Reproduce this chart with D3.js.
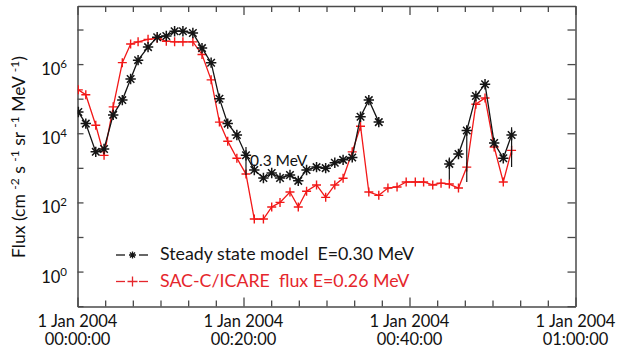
<!DOCTYPE html>
<html>
<head>
<meta charset="utf-8">
<script src="https://cdn.jsdelivr.net/npm/d3@7"></script>
<style>
  html, body { margin: 0; padding: 0; background: #fff; overflow: hidden; }
  text { font-family: Lato, "Open Sans", sans-serif; }
</style>
</head>
<body>
<div id="graph"></div>
<script>
// DATA
// sample times, minutes after 1 Jan 2004 00:00:00
const minutes = [0.1, 1.0, 2.2, 3.2, 4.3, 5.4, 6.4, 7.3, 8.5, 9.6,
  10.7, 11.7, 12.7, 13.9, 15.0, 16.1, 17.1, 18.1, 19.2, 20.3,
  21.3, 22.4, 23.4, 24.4, 25.6, 26.6, 27.6, 28.8, 29.9, 31.0,
  32.0, 33.1, 34.1, 35.1, 36.3, 37.4, 38.5, 39.6, 40.7, 41.7,
  42.8, 43.8, 44.8, 45.9, 46.9, 48.0, 49.1, 50.2, 51.3, 52.3]

// steady state model, E=0.30 MeV (null = no model value)
const steadyFlux = [4.1e4, 1.9e4, 2.9e3, 3.5e3, 3.4e4, 9.1e4, 3.7e5, 1.3e6, 3.1e6, 6.0e6,
  6.5e6, 8.9e6, 8.9e6, 7.9e6, 2.9e6, 1.1e6, 1.0e5, 1.9e4, 8.9e3, 2.3e3,
  870, 510, 710, 510, 620, 420, 870, 1050, 980, 1400,
  1700, 2000, 3.0e4, 9.1e4, 2.1e4, null, null, null, null, null,
  null, null, 1300, 2500, 1.2e4, 1.2e5, 2.6e5, 5200, 1900, 8900]

// SAC-C/ICARE measured flux, E=0.26 MeV
const icareFlux = [1.8e5, 1.3e5, 1.7e4, 2.3e3, 5.8e4, 1.1e6, 3.8e6, 4.4e6, 5.2e6, 5.6e6,
  4.6e6, 4.4e6, 4.4e6, 4.4e6, 1.9e6, 3.5e5, 2.1e4, 5900, 1900, 660,
  33, 33, 74, 100, 200, 74, 210, 320, 140, 320,
  500, 2900, 1.6e4, 200, 160, 260, 280, 390, 390, 390,
  320, 360, 340, 260, 1050, 6.9e4, 1.05e5, 4000, 390, 3200]

// vertical spread on a few model samples: [sample index, low, high]
const steadySpread = [[19, 620, 4000], [42, 450, 2000], [44, 390, 1.2e4], [49, 1050, 1.5e4]]

const yLabelExps = [0, 2, 4, 6]
const yTickExps = [-1, 0, 1, 2, 3, 4, 5, 6, 7]
const xMajorMinutes = [0, 20, 40, 60]
const xTickDates = ["1 Jan 2004", "1 Jan 2004", "1 Jan 2004", "1 Jan 2004"]
const xTickTimes = ["00:00:00", "00:20:00", "00:40:00", "01:00:00"]

// Colours
const black = "#151515"
const red = "#f21818"
const axisColour = "#4a4a4a"

// SVG SETUP
const width = 617
const height = 351
const plot = { left: 77.5, right: 575.5, top: 6, bottom: 306.5 }

const svg = d3.select("#graph").append("svg")
  .attr("width", width).attr("height", height)

const xScale = d3.scaleLinear().domain([0, 60]).range([plot.left, plot.right])
const yScale = d3.scaleLog().domain([Math.pow(10, -1.01), Math.pow(10, 7.68)]).range([plot.bottom, plot.top])

svg.append("clipPath").attr("id", "plot-area")
  .append("rect")
  .attr("x", plot.left).attr("y", plot.top)
  .attr("width", plot.right - plot.left).attr("height", plot.bottom - plot.top)

// AXES (ticks point inward on all four sides)
const minorMinutes = d3.range(0, 19).map(i => i * 10 / 3)
const decades = yTickExps.map(e => Math.pow(10, e))
const isMajor = d => Math.abs(d % 20) < 0.01 || Math.abs(d % 20 - 20) < 0.01

function styleAxis(g) {
  g.select(".domain").attr("stroke", axisColour).attr("stroke-width", 1.5)
  g.selectAll(".tick line").attr("stroke", axisColour).attr("stroke-width", 1.3)
  g.selectAll(".tick text").remove()
}

svg.append("g").attr("transform", `translate(0, ${plot.bottom})`)
  .call(d3.axisBottom(xScale).tickValues(minorMinutes).tickSizeInner(-6).tickSizeOuter(0).tickFormat(""))
  .call(styleAxis)
  .selectAll(".tick line").attr("y2", d => isMajor(d) ? -9 : -6)

svg.append("g").attr("transform", `translate(0, ${plot.top})`)
  .call(d3.axisTop(xScale).tickValues(minorMinutes).tickSizeInner(-6).tickSizeOuter(0).tickFormat(""))
  .call(styleAxis)
  .selectAll(".tick line").attr("y2", d => isMajor(d) ? 9 : 6)

svg.append("g").attr("transform", `translate(${plot.left}, 0)`)
  .call(d3.axisLeft(yScale).tickValues(decades).tickSizeInner(-6).tickSizeOuter(0).tickFormat(""))
  .call(styleAxis)

svg.append("g").attr("transform", `translate(${plot.right}, 0)`)
  .call(d3.axisRight(yScale).tickValues(decades).tickSizeInner(-8).tickSizeOuter(0).tickFormat(""))
  .call(styleAxis)

// y tick labels as powers of ten
yLabelExps.forEach(e => {
  const t = svg.append("text")
    .attr("x", 67).attr("y", yScale(Math.pow(10, e)) + 11)
    .attr("text-anchor", "end").attr("font-size", 16.5).attr("fill", "#111")
  t.append("tspan").text("10")
  t.append("tspan").attr("dy", -7).attr("font-size", 11.5).text(e)
})

// x tick labels, date over time of day
xMajorMinutes.forEach((m, i) => {
  svg.append("text").attr("text-anchor", "middle").attr("font-size", 16.5).attr("fill", "#111")
    .attr("x", xScale(m)).attr("y", 327).text(xTickDates[i])
  svg.append("text").attr("text-anchor", "middle").attr("font-size", 16.5).attr("fill", "#111")
    .attr("x", xScale(m)).attr("y", 345).text(xTickTimes[i])
})

// y axis title
const yTitle = svg.append("text")
  .attr("transform", "translate(25, 157) rotate(-90)")
  .attr("text-anchor", "middle").attr("font-size", 17.5).attr("fill", "#111")
const titleParts = [["Flux (cm ", false], ["-2", true], [" s ", false], ["-1", true], [" sr ", false], ["-1", true], [" MeV ", false], ["-1", true], [")", false]]
let raised = false
titleParts.forEach(([txt, sup]) => {
  const span = yTitle.append("tspan").text(txt)
  if (sup && !raised) { span.attr("dy", -6).attr("font-size", 12); raised = true }
  else if (sup) { span.attr("font-size", 12) }
  else if (raised) { span.attr("dy", 6); raised = false }
})

// SERIES
const steadyData = minutes.map((m, i) => ({ m: m, v: steadyFlux[i] }))
const icareData = minutes.map((m, i) => ({ m: m, v: icareFlux[i] }))

const line = d3.line()
  .defined(d => d.v != null)
  .x(d => xScale(d.m))
  .y(d => yScale(d.v))

const starPath = r => `M${-r},0H${r}M0,${-r}V${r}M${-r * 0.72},${-r * 0.72}L${r * 0.72},${r * 0.72}M${-r * 0.72},${r * 0.72}L${r * 0.72},${-r * 0.72}`
const plusPath = r => `M${-r},0H${r}M0,${-r}V${r}`

const graph = svg.append("g").attr("clip-path", "url(#plot-area)")

// measured flux (red)
graph.append("path").datum(icareData)
  .attr("d", line).attr("fill", "none").attr("stroke", red).attr("stroke-width", 1.3)
graph.selectAll(".icare-mark").data(icareData).enter()
  .append("path").attr("class", "icare-mark")
  .attr("transform", d => `translate(${xScale(d.m)}, ${yScale(d.v)})`)
  .attr("d", plusPath(4.5)).attr("stroke", red).attr("stroke-width", 1.4).attr("fill", "none")

// model spread bars
graph.selectAll(".spread").data(steadySpread).enter()
  .append("line").attr("class", "spread")
  .attr("x1", d => xScale(minutes[d[0]])).attr("x2", d => xScale(minutes[d[0]]))
  .attr("y1", d => yScale(d[1])).attr("y2", d => yScale(d[2]))
  .attr("stroke", black).attr("stroke-width", 1.2)

// steady state model (black)
graph.append("path").datum(steadyData)
  .attr("d", line).attr("fill", "none").attr("stroke", black).attr("stroke-width", 1.3)
graph.selectAll(".steady-mark").data(steadyData.filter(d => d.v != null)).enter()
  .append("path").attr("class", "steady-mark")
  .attr("transform", d => `translate(${xScale(d.m)}, ${yScale(d.v)})`)
  .attr("d", starPath(5.2)).attr("stroke", black).attr("stroke-width", 1.5).attr("fill", "none")

// energy annotation
svg.append("text").attr("x", 250).attr("y", 166)
  .attr("font-family", "'Liberation Sans', Arial, sans-serif").attr("font-size", 15.5).attr("fill", "#111")
  .text("0.3 MeV")

// LEGEND
const legend = [
  { label: "Steady state model\u00a0\u00a0E=0.30 MeV", colour: black, mark: starPath(3.5), y: 255, ty: 260 },
  { label: "SAC-C/ICARE\u00a0\u00a0flux E=0.26 MeV", colour: "#e5262c", mark: plusPath(5), y: 281.5, ty: 287 }
]
legend.forEach(item => {
  const g = svg.append("g")
  g.append("line").attr("x1", 116).attr("x2", 125).attr("y1", item.y).attr("y2", item.y)
    .attr("stroke", item.colour).attr("stroke-width", 1.3)
  g.append("line").attr("x1", 139).attr("x2", 148).attr("y1", item.y).attr("y2", item.y)
    .attr("stroke", item.colour).attr("stroke-width", 1.3)
  g.append("path").attr("transform", `translate(132.5, ${item.y})`).attr("d", item.mark)
    .attr("stroke", item.colour).attr("stroke-width", 1.3).attr("fill", "none")
  g.append("text").attr("x", 160).attr("y", item.ty).attr("font-size", 17.8).attr("fill", item.colour)
    .text(item.label)
})
</script>
</body>
</html>
